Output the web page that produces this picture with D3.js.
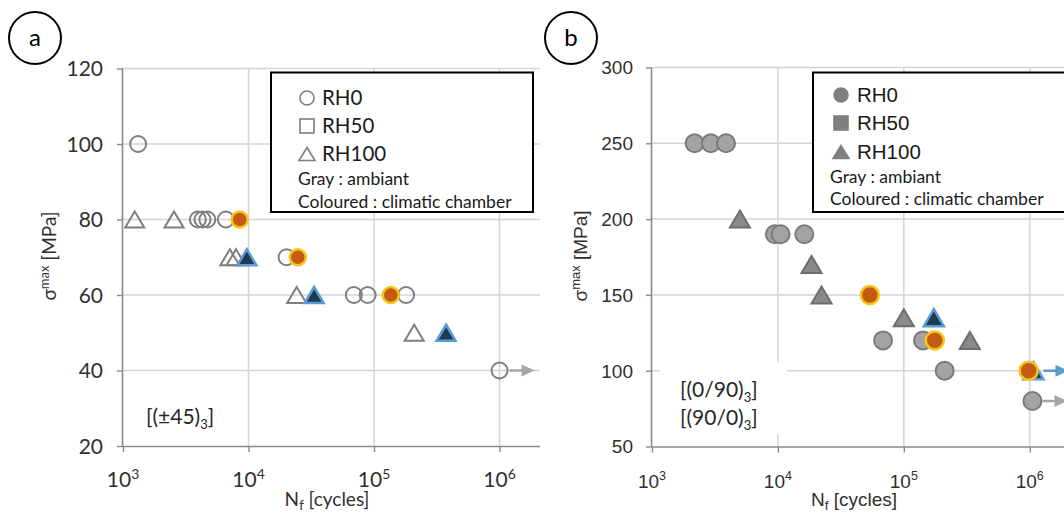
<!DOCTYPE html>
<html><head><meta charset="utf-8">
<script src="https://cdn.jsdelivr.net/npm/d3@7"></script>
<style>body{margin:0;background:#fff}svg{display:block}</style></head>
<body><svg id="c" width="1064" height="513"></svg>
<script>
// ---------------- DATA ----------------
const xTickExponents = [3, 4, 5, 6];
const yTicksA = [20, 40, 60, 80, 100, 120];
const yTicksB = [50, 100, 150, 200, 250, 300];
const legendLabels = ["RH0", "RH50", "RH100"];
const legendNotes = ["Gray : ambiant", "Coloured : climatic chamber"];

// panel a  [(±45)3]   [cycles, MPa]
const aRH0Ambient   = [[1320,100],[3950,80],[4300,80],[4700,80],[6600,80],[20100,70],[69000,60],[89000,60],[180000,60],[1000000,40]];
const aRH0Chamber   = [[8500,80],[24700,70],[136000,60]];
const aRH100Ambient = [[1240,80],[2550,80],[7100,70],[7950,70],[24200,60],[209000,50]];
const aRH100Chamber = [[9700,70],[33300,60],[375000,50]];
const aRunouts      = [[1000000,40,"gray"]];

// panel b  [(0/90)3] [(90/0)3]
const bRH0Ambient   = [[2180,250],[2930,250],[3870,250],[9460,190],[10500,190],[16200,190],[68400,120],[142000,120],[211000,100],[1050000,80]];
const bRH0Chamber   = [[53700,150],[176000,120],[980000,100]];
const bRH100Ambient = [[4990,200],[18500,170],[22200,150],[100000,135],[334000,120]];
const bRH100Chamber = [[173000,135],[1070000,100]];
const bRunouts      = [[1050000,80,"gray"],[1070000,100,"blue"]];

// ---------------- DRAW ----------------
const svg = d3.select("#c");
const FONT_A = "Lato, 'Open Sans', sans-serif";
const FONT_B = "'Liberation Sans', Arial, sans-serif";
const GRID = "#d4d4d4", AXIS = "#8a8a8a", TXT = "#303030";

function triPath(cx, cy, w, h) {
  return `M${cx},${cy - h/2}L${cx + w/2},${cy + h/2}L${cx - w/2},${cy + h/2}Z`;
}

function drawPanel(p) {
  const g = svg.append("g");
  const x = d3.scaleLog().domain(p.xDomain).range(p.xRange);
  const y = d3.scaleLinear().domain(p.yDomain).range(p.yRange);
  const x0 = p.xRange[0], x1 = p.xRange[1], yb = p.yRange[0], yt = p.yRange[1];

  // gridlines
  g.append("g").selectAll("line").data(p.yTicks.filter(v => v !== p.yDomain[0])).join("line")
    .attr("x1", x0).attr("x2", x1).attr("y1", d => y(d)).attr("y2", d => y(d))
    .attr("stroke", GRID).attr("stroke-width", 1.5);
  g.append("g").selectAll("line").data(xTickExponents.slice(1)).join("line")
    .attr("x1", d => x(10 ** d)).attr("x2", d => x(10 ** d)).attr("y1", yt).attr("y2", yb)
    .attr("stroke", GRID).attr("stroke-width", 1.5);

  if (p.whiteBox) {
    g.append("rect").attr("x", p.whiteBox[0]).attr("y", p.whiteBox[1])
      .attr("width", p.whiteBox[2]).attr("height", p.whiteBox[3]).attr("fill", "#fff");
  }

  // axes
  const yAx = g.append("g").attr("transform", `translate(${x0},0)`)
    .call(d3.axisLeft(y).tickValues(p.yTicks).tickSize(6).tickFormat(""));
  const xAx = g.append("g").attr("transform", `translate(0,${yb})`)
    .call(d3.axisBottom(x).tickValues(xTickExponents.map(e => 10 ** e)).tickSize(6).tickFormat(""));
  [yAx, xAx].forEach(a => {
    a.select(".domain").attr("stroke", AXIS).attr("stroke-width", 1.6);
    a.selectAll(".tick line").attr("stroke", AXIS).attr("stroke-width", 1.4);
  });
  xAx.select(".domain").attr("d", `M${x0},0.5H${x1}`);
  yAx.select(".domain").attr("d", `M-0.5,${yt}V${yb}`);

  // tick labels
  g.append("g").selectAll("text").data(p.yTicks).join("text")
    .attr("x", x0 - p.yLabOff).attr("y", d => y(d)).attr("dy", "0.36em")
    .attr("text-anchor", "end").attr("font-family", p.tickFont).attr("font-size", p.tickSize)
    .attr("fill", TXT).text(d => d);
  const xl = g.append("g").selectAll("text").data(xTickExponents).join("text")
    .attr("x", d => x(10 ** d)).attr("y", yb + 41)
    .attr("text-anchor", "middle").attr("font-family", p.tickFont).attr("font-size", p.tickSize)
    .attr("fill", TXT);
  xl.append("tspan").text("10");
  xl.append("tspan").attr("dy", -8).attr("font-size", p.tickSize * 0.66).text(d => d);

  // axis titles
  const xt = g.append("text").attr("x", p.xTitleX).attr("y", 506).attr("text-anchor", "middle")
    .attr("font-family", p.titleFont).attr("font-size", p.titleSize).attr("fill", TXT);
  xt.append("tspan").text("N");
  xt.append("tspan").attr("dy", 4).attr("font-size", 13).text("f");
  xt.append("tspan").attr("dy", -4).text(" [cycles]");

  const yT = g.append("text").attr("transform", `translate(${p.yTitleX},256) rotate(-90)`)
    .attr("text-anchor", "middle").attr("font-family", p.titleFont).attr("font-size", p.titleSize).attr("fill", TXT);
  yT.append("tspan").text("σ");
  yT.append("tspan").attr("dy", -7).attr("font-size", 13).text("max");
  yT.append("tspan").attr("dy", 7).text(" [MPa]");

  // panel letter
  g.append("circle").attr("cx", p.letterX).attr("cy", 38).attr("r", 26)
    .attr("fill", "#fff").attr("stroke", "#000").attr("stroke-width", 2);
  g.append("text").attr("x", p.letterX).attr("y", 38).attr("dy", "0.35em").attr("text-anchor", "middle")
    .attr("font-family", FONT_A).attr("font-size", 24).attr("fill", "#000").text(p.letter);

  // lay-up label
  p.layup.forEach((s, i) => {
    const t = g.append("text").attr("x", p.layupX).attr("y", p.layupY + i * 28)
      .attr("font-family", FONT_A).attr("font-size", 21).attr("fill", "#262626");
    t.append("tspan").text(s);
    t.append("tspan").attr("dy", 5).attr("font-size", 13).text("3");
    t.append("tspan").attr("dy", -5).text("]");
  });

  // runout arrows
  p.runouts.forEach(([n, s, c]) => {
    const col = c === "blue" ? "#5b9bc6" : "#a6a6a6";
    const cx = x(n) + 10, cy = y(s);
    g.append("line").attr("x1", cx).attr("x2", cx + 14).attr("y1", cy).attr("y2", cy)
      .attr("stroke", col).attr("stroke-width", 2.5);
    g.append("path").attr("d", `M${cx + 12},${cy - 6}L${cx + 25},${cy}L${cx + 12},${cy + 6}Z`).attr("fill", col);
  });

  // markers
  const st = p.styles;
  g.append("g").selectAll("path").data(p.tAmb).join("path")
    .attr("d", d => triPath(x(d[0]), y(d[1]), st.tw, st.th)).attr("fill", st.triFill)
    .attr("stroke", st.triStroke).attr("stroke-width", 2).attr("stroke-linejoin", "miter");
  g.append("g").selectAll("circle").data(p.cAmb).join("circle")
    .attr("cx", d => x(d[0])).attr("cy", d => y(d[1])).attr("r", st.r)
    .attr("fill", st.cFill).attr("stroke", st.cStroke).attr("stroke-width", 2);
  g.append("g").selectAll("path").data(p.tCh).join("path")
    .attr("d", d => triPath(x(d[0]), y(d[1]), st.tw, st.th)).attr("fill", "#203a50")
    .attr("stroke", "#5b9bd5").attr("stroke-width", 2.5);
  g.append("g").selectAll("circle").data(p.cCh).join("circle")
    .attr("cx", d => x(d[0])).attr("cy", d => y(d[1])).attr("r", st.r)
    .attr("fill", "#c55a11").attr("stroke", "#f5c518").attr("stroke-width", 2.5);

  // legend box
  const lb = p.legend;
  g.append("rect").attr("x", lb.x).attr("y", 72.5).attr("width", lb.w).attr("height", 139.5)
    .attr("fill", "#fff").attr("stroke", "#000").attr("stroke-width", 2);
  legendLabels.forEach((lab, i) => {
    const my = lb.rows[i], mx = lb.mx;
    if (i === 0) g.append("circle").attr("cx", mx).attr("cy", my).attr("r", 7)
      .attr("fill", st.legFill).attr("stroke", st.legStroke).attr("stroke-width", 1.6);
    if (i === 1) g.append("rect").attr("x", mx - 7).attr("y", my - 7).attr("width", 14).attr("height", 14)
      .attr("fill", st.legFill).attr("stroke", st.legStroke).attr("stroke-width", 1.6);
    if (i === 2) g.append("path").attr("d", triPath(mx, my, 16, 13))
      .attr("fill", st.legFill).attr("stroke", st.legStroke).attr("stroke-width", 1.6);
    g.append("text").attr("x", lb.tx).attr("y", my).attr("dy", "0.36em")
      .attr("font-family", p.legFont).attr("font-size", 20.5).attr("fill", "#1a1a1a").text(lab);
  });
  legendNotes.forEach((s, i) => {
    g.append("text").attr("x", lb.nx).attr("y", lb.rows[3 + i]).attr("dy", "0.36em")
      .attr("font-family", FONT_A).attr("font-size", 17.5).attr("fill", "#1a1a1a").text(s);
  });
}

drawPanel({
  xDomain: [1e3, 2.1e6], xRange: [123, 540],
  yDomain: [20, 120], yRange: [446, 68.5], yTicks: yTicksA,
  tickFont: FONT_A, tickSize: 21, yLabOff: 20, titleFont: FONT_A, titleSize: 19,
  xTitleX: 327, yTitleX: 56, letter: "a", letterX: 35,
  layup: ["[(±45)"], layupX: 146, layupY: 424,
  runouts: aRunouts,
  cAmb: aRH0Ambient, cCh: aRH0Chamber, tAmb: aRH100Ambient, tCh: aRH100Chamber,
  styles: { r: 8, tw: 19, th: 16, cFill: "none", cStroke: "#7f7f7f", triFill: "none", triStroke: "#7f7f7f",
            legFill: "none", legStroke: "#7f7f7f" },
  legend: { x: 271, w: 262, mx: 307, tx: 322, nx: 298, rows: [98, 126, 154, 179, 202] },
  legFont: FONT_A
});

drawPanel({
  xDomain: [1e3, 1.87e6], xRange: [652, 1064],
  yDomain: [50, 300], yRange: [446.5, 67.5], yTicks: yTicksB,
  tickFont: FONT_B, tickSize: 19, yLabOff: 19, titleFont: FONT_B, titleSize: 19,
  xTitleX: 854, yTitleX: 587, letter: "b", letterX: 571,
  layup: ["[(0/90)", "[(90/0)"], layupX: 680, layupY: 397,
  whiteBox: [660, 362, 127, 72],
  runouts: bRunouts,
  cAmb: bRH0Ambient, cCh: bRH0Chamber, tAmb: bRH100Ambient, tCh: bRH100Chamber,
  styles: { r: 9, tw: 20, th: 17, cFill: "#a3a3a3", cStroke: "#7a7a7a", triFill: "#8a8a8a", triStroke: "#6e6e6e",
            legFill: "#7f7f7f", legStroke: "#7f7f7f" },
  legend: { x: 813, w: 260, mx: 841, tx: 857, nx: 830, rows: [95, 123, 152, 177, 199] },
  legFont: FONT_B
});
</script></body></html>
